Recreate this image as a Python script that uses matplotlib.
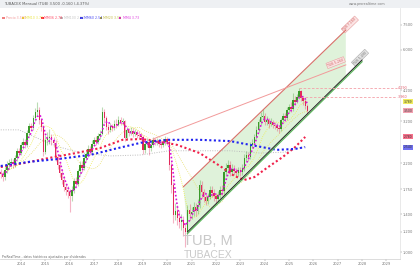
import matplotlib

matplotlib.use("Agg")
import matplotlib.pyplot as plt
import numpy as np
import pandas as pd
from matplotlib.patches import Rectangle

# month index: 0 = Jan 2013, monthly candles from Feb 2013 to Oct 2025
first_open = 2.10
closes = [
    2.04, 2.00, 1.95, 2.08, 2.17, 2.21, 2.23, 2.19, 2.30, 2.45,
    2.41, 2.58, 2.66, 2.60, 2.88, 3.05, 3.01, 3.30, 3.46, 3.53,
    3.23, 3.04, 2.43, 2.71, 2.76, 2.78, 2.71, 2.64, 2.33, 2.17,
    2.02, 1.90, 1.79, 1.74, 1.71, 1.65, 1.74, 1.88, 1.84, 2.05,
    2.17, 2.12, 2.30, 2.38, 2.50, 2.44, 2.62, 2.70, 2.66, 2.80,
    2.86, 3.47, 3.29, 3.04, 2.96, 3.05, 3.01, 3.12, 3.10, 3.23,
    3.17, 3.20, 2.76, 2.96, 2.88, 2.94, 2.86, 2.90, 2.83, 2.80,
    2.78, 2.48, 2.62, 2.66, 2.52, 2.59, 2.70, 2.65, 2.68, 2.62,
    2.60, 2.66, 2.72, 2.66, 2.17, 1.82, 1.39, 1.44, 1.36, 1.31,
    1.33, 1.24, 1.20, 1.46, 1.40, 1.43, 1.50, 1.44, 1.52, 1.82,
    1.71, 1.63, 1.58, 1.64, 1.74, 1.70, 1.65, 1.60, 1.66, 1.74,
    1.72, 2.04, 2.11, 2.17, 2.04, 2.10, 2.06, 2.02, 2.08, 2.04,
    2.11, 2.30, 2.37, 2.33, 2.59, 2.64, 2.78, 2.96, 3.17, 3.32,
    3.36, 3.17, 3.23, 3.12, 3.18, 3.09, 3.06, 3.01, 2.98, 3.23,
    3.35, 3.30, 3.53, 3.62, 3.57, 3.86, 3.80, 3.96, 4.18, 3.92,
    3.82, 3.66, 3.50,
]
highs = [
    2.16, 2.10, 2.05, 2.14, 2.24, 2.28, 2.31, 2.29, 2.36, 2.52,
    2.53, 2.66, 2.75, 2.74, 2.95, 3.14, 3.15, 3.38, 3.58, 3.80,
    3.62, 3.30, 3.10, 2.82, 2.90, 2.98, 2.86, 2.78, 2.70, 2.40,
    2.22, 2.08, 1.96, 1.85, 1.80, 1.76, 1.80, 1.94, 1.95, 2.10,
    2.24, 2.25, 2.36, 2.46, 2.58, 2.57, 2.70, 2.78, 2.80, 2.88,
    2.95, 3.62, 3.55, 3.36, 3.12, 3.14, 3.12, 3.22, 3.25, 3.35,
    3.32, 3.30, 3.24, 3.04, 3.02, 3.03, 3.00, 2.98, 2.96, 2.92,
    2.89, 2.84, 2.70, 2.76, 2.72, 2.66, 2.78, 2.76, 2.75, 2.74,
    2.70, 2.73, 2.80, 2.78, 2.74, 2.22, 1.86, 1.55, 1.52, 1.45,
    1.40, 1.38, 1.30, 1.52, 1.53, 1.50, 1.56, 1.55, 1.60, 1.90,
    1.88, 1.76, 1.68, 1.70, 1.80, 1.80, 1.76, 1.70, 1.72, 1.80,
    1.82, 2.10, 2.20, 2.26, 2.24, 2.18, 2.16, 2.12, 2.14, 2.14,
    2.18, 2.38, 2.46, 2.44, 2.66, 2.74, 2.86, 3.06, 3.26, 3.46,
    3.56, 3.44, 3.36, 3.30, 3.28, 3.24, 3.18, 3.14, 3.08, 3.30,
    3.44, 3.45, 3.62, 3.72, 3.80, 4.10, 3.98, 4.06, 4.29, 4.22,
    4.00, 3.88, 3.72,
]
lows = [
    1.98, 1.94, 1.88, 1.90, 2.02, 2.10, 2.14, 2.12, 2.14, 2.25,
    2.34, 2.36, 2.50, 2.52, 2.55, 2.80, 2.92, 2.95, 3.20, 3.35,
    3.12, 2.92, 2.35, 2.38, 2.60, 2.62, 2.60, 2.55, 2.25, 2.10,
    1.95, 1.83, 1.72, 1.66, 1.62, 1.43, 1.58, 1.70, 1.78, 1.80,
    1.99, 2.04, 2.08, 2.24, 2.33, 2.36, 2.40, 2.56, 2.58, 2.62,
    2.74, 2.82, 3.15, 2.95, 2.86, 2.90, 2.94, 2.96, 3.02, 3.05,
    3.08, 3.10, 2.68, 2.72, 2.80, 2.82, 2.78, 2.80, 2.76, 2.72,
    2.70, 2.40, 2.42, 2.55, 2.36, 2.46, 2.54, 2.58, 2.60, 2.55,
    2.52, 2.55, 2.60, 2.58, 2.08, 1.70, 1.30, 1.33, 1.28, 1.24,
    1.22, 1.16, 1.05, 1.16, 1.33, 1.35, 1.38, 1.38, 1.40, 1.48,
    1.62, 1.56, 1.52, 1.54, 1.60, 1.63, 1.58, 1.54, 1.56, 1.62,
    1.66, 1.68, 1.96, 2.04, 1.96, 1.98, 1.98, 1.95, 1.97, 1.96,
    1.99, 2.06, 2.24, 2.25, 2.28, 2.52, 2.58, 2.72, 2.90, 3.10,
    3.22, 3.08, 3.10, 3.02, 3.05, 3.00, 2.97, 2.92, 2.88, 2.92,
    3.16, 3.20, 3.24, 3.45, 3.48, 3.50, 3.70, 3.74, 3.90, 3.82,
    3.70, 3.55, 3.40,
]

# slow averages (month index, price)
red_months = [2, 14, 26, 39, 51, 62, 71, 79, 89, 100, 110, 117, 122, 127, 133, 141, 147, 152]
red_vals = [2.13, 2.21, 2.31, 2.41, 2.52, 2.71, 2.73, 2.68, 2.59, 2.41, 2.15, 1.97, 1.90, 1.95, 2.11, 2.33, 2.54, 2.78]
blue_months = [2, 16, 31, 46, 58, 71, 84, 100, 115, 125, 138, 147, 152]
blue_vals = [2.15, 2.23, 2.29, 2.37, 2.50, 2.64, 2.71, 2.71, 2.68, 2.59, 2.48, 2.50, 2.54]
gray_months = [2, 11, 21, 31, 42, 56, 71, 85, 100, 115, 130, 142, 152]
gray_vals = [2.96, 2.96, 2.73, 2.54, 2.41, 2.35, 2.37, 2.46, 2.46, 2.46, 2.41, 2.43, 2.56]

# drawn objects: channel, trend line, resistance levels
chan_upper_m = [92, 172]
chan_upper_p = [1.79, 7.16]
chan_lower_m = [94, 180]
chan_lower_p = [1.20, 5.49]
trend_m = [77, 172]
trend_p = [2.73, 5.26]
level_vals = [4.29, 3.96]
level_start = [149, 150]
level_end = 197

years = list(range(2014, 2030))
price_ticks = [1.0, 1.2, 1.4, 1.75, 2.2, 3.2, 4.2, 6.0, 7.5]

GREEN = "#3a9a2a"
RED = "#e2285a"

W, H = 420, 265
fig = plt.figure(figsize=(W / 100, H / 100), dpi=100)
fig.patch.set_facecolor("white")
ax = fig.add_axes([0, 6 / H, 400 / W, 251 / H])

months = np.arange(1, len(closes) + 1)
c = np.array(closes)
o = np.concatenate([[first_open], c[:-1]])
up = c >= o
cols = np.where(up, GREEN, RED)

# channel shading (drawn first, behind candles)
lo_right = np.exp(np.interp(chan_upper_m[1], chan_lower_m, np.log(chan_lower_p)))
ax.fill(
    [chan_upper_m[0], chan_upper_m[1], chan_upper_m[1], chan_lower_m[0]],
    [chan_upper_p[0], chan_upper_p[1], lo_right, chan_lower_p[0]],
    color="#dcf1d6", alpha=0.9, lw=0, zorder=0,
)

ax.vlines(months, lows, highs, colors=cols, lw=0.8, alpha=0.35, zorder=2)
ax.bar(months, np.abs(c - o), bottom=np.minimum(c, o), width=0.7,
       color=cols, lw=0, zorder=3)

s = pd.Series(c, index=months)
ma4 = s.rolling(4, min_periods=1).mean()
ma10 = s.rolling(10, min_periods=1).mean()
ma20 = s.rolling(20, min_periods=1).mean()

ax.plot(gray_months, gray_vals, color="#bdbdbd", lw=0.7, ls=(0, (1, 1.5)), zorder=1)
ax.plot(months, ma20, color="#e8e070", lw=0.6, ls=(0, (1, 1.5)), zorder=1)
ax.plot(months, ma10, color="#eded50", lw=0.6, ls=(0, (1, 1.5)), zorder=1)
ax.plot(red_months, red_vals, color="#f0204a", lw=1.5, ls=(0, (1, 1.2)), zorder=4)
ax.plot(blue_months, blue_vals, color="#1f22f0", lw=1.5, ls=(0, (1, 1.2)), zorder=4)
ax.plot(months, ma4, color="#d810d8", lw=1.2, ls=(0, (1, 1.3)), zorder=5)

# channel lines
ax.plot(chan_upper_m, chan_upper_p, color="#d9706a", lw=0.8, zorder=4)
ax.plot(chan_lower_m, np.array(chan_lower_p) * 0.985, color="#5cb85c", lw=0.9, zorder=4)
ax.plot(chan_lower_m, chan_lower_p, color="#222222", lw=0.7, zorder=4)
ax.plot(trend_m, trend_p, color="#f29a9a", lw=0.7, zorder=4)

for val, st in zip(level_vals, level_start):
    ax.plot([st, level_end], [val, val], color="#f4a0a8", lw=0.6, ls=(0, (3, 2)), zorder=4)
    ax.text(level_end + 0.5, val, f"{val:.3f}", fontsize=2.4, color="#e06070",
            va="center", ha="left", clip_on=False)

ax.set_yscale("log")
ax.set_xlim(1.63, 198.7)
ax.set_ylim(0.944, 8.70)


def _angle(xs, ys):
    p = ax.transData.transform(np.column_stack([xs, ys]))
    return np.degrees(np.arctan2(p[1, 1] - p[0, 1], p[1, 0] - p[0, 0]))


ax.text(chan_upper_m[1] + 2, chan_upper_p[1] * 1.05, f"TUB {chan_upper_p[1]:.3f}",
        rotation=_angle(chan_upper_m, chan_upper_p), fontsize=2.3, color="#d06060",
        ha="center", va="center", rotation_mode="anchor",
        bbox=dict(boxstyle="square,pad=0.25", fc="#fbe4e4", ec="#e8a0a0", lw=0.4))
ax.text(chan_lower_m[1] - 1, chan_lower_p[1] * 1.02, f"TUB {chan_lower_p[1]:.3f}",
        rotation=_angle(chan_lower_m, chan_lower_p), fontsize=2.3, color="#777777",
        ha="center", va="center", rotation_mode="anchor",
        bbox=dict(boxstyle="square,pad=0.25", fc="#e4e4e4", ec="#aaaaaa", lw=0.4))
ax.text(trend_m[1] - 5, trend_p[1] * 1.02, f"TUB {trend_p[1]:.3f}",
        rotation=_angle(trend_m, trend_p), fontsize=2.3, color="#d06060",
        ha="center", va="center", rotation_mode="anchor",
        bbox=dict(boxstyle="square,pad=0.25", fc="#fbe4e4", ec="#e8a0a0", lw=0.4))

# axes styling
for side in ("top", "left"):
    ax.spines[side].set_visible(False)
ax.spines["bottom"].set_color("#cfcfcf")
ax.spines["bottom"].set_linewidth(0.5)
ax.spines["right"].set_color("#e0e0e0")
ax.spines["right"].set_linewidth(0.5)
ax.set_xticks([(y - 2013) * 12 for y in years])
ax.set_xticklabels([str(y) for y in years])
ax.yaxis.tick_right()
ax.set_yticks(price_ticks)
ax.set_yticklabels([f"{t:.3f}" for t in price_ticks])
ax.yaxis.set_minor_locator(matplotlib.ticker.NullLocator())
ax.tick_params(axis="both", labelsize=2.6, colors="#777777", length=1.2, width=0.3, pad=1)

# value tags on the price scale
tags = [
    (ma10.iloc[-1], "#f0ec60"),
    (closes[-1], "#f2a0b0"),
    (red_vals[-1], "#f6708a"),
    (blue_vals[-1], "#7070f0"),
]
for val, col in tags:
    ax.annotate(f"{val:.3f}", xy=(1.0, val), xycoords=("axes fraction", "data"),
                xytext=(2.5, 0), textcoords="offset points", fontsize=2.2, color="#333333",
                va="center", ha="left",
                bbox=dict(boxstyle="square,pad=0.15", fc=col, ec="none"))

# header strip
fig.patches.append(Rectangle((0, 1 - 8 / H), 1, 8 / H, transform=fig.transFigure,
                             fc="#eef0f3", ec="none", zorder=0))
fig.text(4 / W, 1 - 4 / H, "TUBACEX Mensual (TUB) 3.500 -0.160 (-4.37%)",
         fontsize=2.6, color="#555555", va="center")
fig.text(385 / W, 1 - 4 / H, "www.prorealtime.com", fontsize=2.4, color="#777777",
         va="center", ha="right")

# legend row
legend_items = [
    ("Precio 3.500", "#f08080"),
    ("MM10 3.72", "#e6e020"),
    ("MM36 2.78", "#ff2040"),
    ("MM100 2.56", "#bbbbbb"),
    ("MM60 2.54", "#2020f0"),
    ("MM20 3.55", "#b8b020"),
    ("MM4 3.73", "#d810d8"),
]
lx = 2
for label, col in legend_items:
    fig.patches.append(Rectangle((lx / W, 1 - 19 / H), 2.5 / W, 2.5 / H,
                                 transform=fig.transFigure, fc=col, ec="none"))
    fig.text((lx + 3.5) / W, 1 - 17.8 / H, label, fontsize=2.3, color=col,
             alpha=0.8, va="center")
    lx += 19.5

# watermark and footer
fig.text(183 / W, 20 / H, "TUB, M", fontsize=10.5, color="#c9c9c9", va="baseline",
         family="Liberation Sans")
fig.text(184 / W, 6.5 / H, "TUBACEX", fontsize=7.5, color="#c9c9c9", va="baseline",
         family="Liberation Sans")
fig.text(2 / W, 8 / H, "ProRealTime - datos históricos ajustados por dividendos",
         fontsize=2.2, color="#666666", va="center")

fig.savefig("out.png", dpi=100)
